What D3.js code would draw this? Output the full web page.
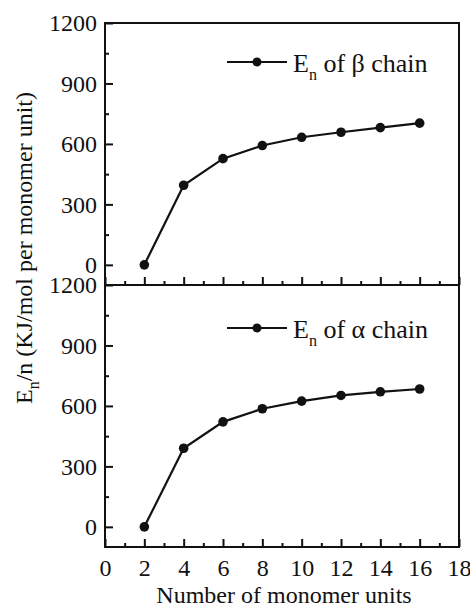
<!DOCTYPE html>
<html>
<head>
<meta charset="utf-8">
<script src="https://cdn.jsdelivr.net/npm/d3@7"></script>
</head>
<body style="margin:0">
<svg id="chart" width="470" height="607"></svg>
<script>
// ---- data ----
const units = [2, 4, 6, 8, 10, 12, 14, 16];
const betaValues = [0, 395, 527, 592, 633, 658, 681, 703];
const alphaValues = [0, 390, 521, 586, 624, 652, 670, 684];
const yTicks = [0, 300, 600, 900, 1200];
const yMinorTicks = [150, 450, 750, 1050];
const xTicks = [0, 2, 4, 6, 8, 10, 12, 14, 16, 18];
const xMinorTicks = [1, 3, 5, 7, 9, 11, 13, 15, 17];
const panels = [
  { name: "β", values: betaValues },
  { name: "α", values: alphaValues }
];

// ---- layout ----
const svg = d3.select("#chart");
const left = 105, right = 459;
const panelTops = [23, 285];
const panelH = 262;
const FS = 24;
const FONT = "Liberation Serif";

function serif(sel) {
  sel.attr("font-family", FONT).style("font-family", '"Liberation Serif"').attr("fill", "#111");
}

const x = d3.scaleLinear().domain([0, 18]).range([left, right]);

panels.forEach((p, i) => {
  const top = panelTops[i], bottom = top + panelH;
  const y = d3.scaleLinear().domain([-100, 1200]).range([bottom, top]);
  const g = svg.append("g");

  // left axis major
  const yAx = g.append("g").attr("transform", `translate(${left},0)`)
    .call(d3.axisLeft(y).tickValues(yTicks).tickSizeInner(-8).tickSizeOuter(0).tickPadding(8).tickFormat(d3.format("d")));
  yAx.attr("font-family", FONT).attr("font-size", FS);
  yAx.select(".domain").remove();
  yAx.selectAll("line").attr("stroke", "#111").attr("stroke-width", 2);
  yAx.selectAll("text").attr("font-size", FS).call(serif);
  // left axis minor
  const yAxm = g.append("g").attr("transform", `translate(${left},0)`)
    .call(d3.axisLeft(y).tickValues(yMinorTicks).tickSizeInner(-4).tickSizeOuter(0).tickFormat(""));
  yAxm.select(".domain").remove();
  yAxm.selectAll("line").attr("stroke", "#111").attr("stroke-width", 2);

  // bottom axis major
  const xAx = g.append("g").attr("transform", `translate(0,${bottom})`)
    .call(d3.axisBottom(x).tickValues(xTicks).tickSizeInner(-8).tickSizeOuter(0).tickPadding(12)
      .tickFormat(i === 1 ? d3.format("d") : ""));
  xAx.attr("font-family", FONT).attr("font-size", FS);
  xAx.select(".domain").remove();
  xAx.selectAll("line").attr("stroke", "#111").attr("stroke-width", 2);
  xAx.selectAll("text").attr("font-size", FS).call(serif);
  const xAxm = g.append("g").attr("transform", `translate(0,${bottom})`)
    .call(d3.axisBottom(x).tickValues(xMinorTicks).tickSizeInner(-4).tickSizeOuter(0).tickFormat(""));
  xAxm.select(".domain").remove();
  xAxm.selectAll("line").attr("stroke", "#111").attr("stroke-width", 2);

  // frame
  g.append("rect").attr("x", left).attr("y", top).attr("width", right - left).attr("height", panelH)
    .attr("fill", "none").attr("stroke", "#111").attr("stroke-width", 2);

  // line + markers
  const data = units.map((u, k) => [u, p.values[k]]);
  g.append("path").datum(data)
    .attr("d", d3.line().x(d => x(d[0])).y(d => y(d[1])))
    .attr("fill", "none").attr("stroke", "#111").attr("stroke-width", 2.2);
  g.selectAll("circle.pt").data(data).enter().append("circle")
    .attr("class", "pt").attr("cx", d => x(d[0])).attr("cy", d => y(d[1])).attr("r", 4.8)
    .attr("fill", "#111");

  // legend
  const ly = top + (i === 0 ? 39 : 43);
  g.append("line").attr("x1", 227).attr("x2", 287).attr("y1", ly).attr("y2", ly)
    .attr("stroke", "#111").attr("stroke-width", 2.2);
  g.append("circle").attr("cx", 257).attr("cy", ly).attr("r", 4.5).attr("fill", "#111");
  const t = g.append("text").attr("x", 293).attr("y", ly + 10).attr("font-size", FS + 2).call(serif);
  t.append("tspan").text("E");
  t.append("tspan").text("n").attr("font-size", 16).attr("dy", 8);
  t.append("tspan").text(" of " + p.name + " chain").attr("dy", -8);
});

// x axis title
svg.append("text").attr("x", (left + right) / 2 + 2).attr("y", 603)
  .attr("text-anchor", "middle").attr("font-size", FS).call(serif)
  .text("Number of monomer units");

// y axis title
const yt = svg.append("text").attr("transform", "translate(32,248) rotate(-90)")
  .attr("text-anchor", "middle").attr("font-size", FS).call(serif);
yt.append("tspan").text("E");
yt.append("tspan").text("n").attr("font-size", 16).attr("dy", 7);
yt.append("tspan").text("/n (KJ/mol per monomer unit)").attr("dy", -7);
</script>
</body>
</html>
